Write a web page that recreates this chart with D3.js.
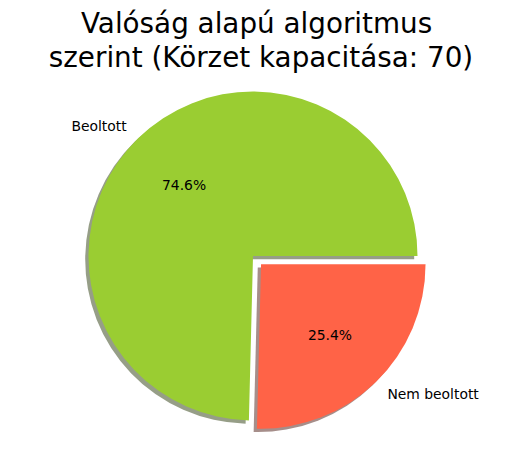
<!DOCTYPE html>
<html><head><meta charset="utf-8">
<script src="https://cdn.jsdelivr.net/npm/d3@7"></script>
<style>body{margin:0;background:#fff}svg{display:block}text{font-family:"DejaVu Sans",sans-serif;white-space:pre}</style>
</head><body>
<script>
const categories = ["Beoltott", "Nem beoltott"];
const values = [47, 16];
const colors = ["#9ACD32", "#FF6347"];
const explode = [0, 0.07];
const titleLines = ["Valóság alapú algoritmus ", "szerint (Körzet kapacitása: 70)"];

const W = 515, H = 455;
const cx = 253, cy = 256, R = 164.5;
const svg = d3.select("body").append("svg").attr("width", W).attr("height", H);

const total = d3.sum(values);
const pie = d3.pie().sort(null).value(d => d)
  .startAngle(Math.PI / 2).endAngle(Math.PI / 2 - 2 * Math.PI);
const arcs = pie(values);
const arc = d3.arc().innerRadius(0).outerRadius(R);
const labelArc = d3.arc().innerRadius(R * 1.1).outerRadius(R * 1.1);
const pctArc = d3.arc().innerRadius(R * 0.6).outerRadius(R * 0.6);

function offset(a, i) {
  const mid = (a.startAngle + a.endAngle) / 2;
  const d = explode[i] * R;
  return [d * Math.sin(mid), -d * Math.cos(mid)];
}

const g = svg.append("g").attr("transform", `translate(${cx},${cy})`);
arcs.forEach((a, i) => {
  const [dx, dy] = offset(a, i);
  const c = d3.rgb(colors[i]);
  g.append("path").attr("d", arc(a))
    .attr("transform", `translate(${dx - 0.02 * R},${dy + 0.02 * R})`)
    .attr("fill", d3.rgb(c.r * 0.3, c.g * 0.3, c.b * 0.3)).attr("fill-opacity", 0.5);
});
arcs.forEach((a, i) => {
  const [dx, dy] = offset(a, i);
  g.append("path").attr("d", arc(a))
    .attr("transform", `translate(${dx},${dy})`)
    .attr("fill", colors[i]);
});
arcs.forEach((a, i) => {
  const [dx, dy] = offset(a, i);
  const [lx, ly] = labelArc.centroid(a);
  g.append("text").attr("x", lx + dx).attr("y", ly + dy)
    .attr("dominant-baseline", "central")
    .attr("text-anchor", lx > 0 ? "start" : "end")
    .attr("font-size", "13.9px").attr("fill", "#000")
    .text(categories[i]);
  const [px, py] = pctArc.centroid(a);
  g.append("text").attr("x", px + dx).attr("y", py + dy)
    .attr("dominant-baseline", "central")
    .attr("text-anchor", "middle")
    .attr("font-size", "13.9px").attr("fill", "#000")
    .text((values[i] / total * 100).toFixed(1) + "%");
});

svg.selectAll("text.title").data(titleLines).enter().append("text")
  .attr("class", "title")
  .attr("x", 261).attr("y", (d, i) => 33 + i * 34)
  .attr("text-anchor", "middle").attr("font-size", "27.8px").attr("fill", "#000")
  .text(d => d);
</script>
</body></html>
